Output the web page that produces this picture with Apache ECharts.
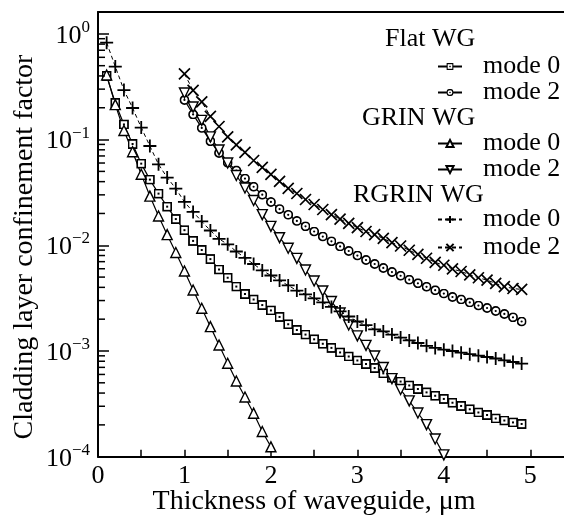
<!DOCTYPE html>
<html><head><meta charset="utf-8">
<script src="https://cdn.jsdelivr.net/npm/echarts@6/dist/echarts.min.js"></script>
<style>html,body{margin:0;padding:0;background:#fff}#c{width:564px;height:518px}</style>
</head><body><div id="c"></div>
<script>
// ---- data ----
const flatMode0X = [0.1,0.2,0.3,0.4,0.5,0.6,0.7,0.8,0.9,1.0,1.1,1.2,1.3,1.4,1.5,1.6,1.7,1.8,1.9,2.0,2.1,2.2,2.3,2.4,2.5,2.6,2.7,2.8,2.9,3.0,3.1,3.2,3.3,3.4,3.5,3.6,3.7,3.8,3.9,4.0,4.1,4.2,4.3,4.4,4.5,4.6,4.7,4.8,4.9];
const flatMode0Y = [0.400,0.222,0.139,0.0908,0.0592,0.0418,0.0308,0.0232,0.0177,0.0139,
  0.0110,0.00902,0.00740,0.00590,0.00493,0.00407,0.00346,0.00307,0.00272,0.00242,
  0.00210,0.00179,0.00158,0.00143,0.00129,0.00117,0.00107,0.000969,0.000887,0.000813,
  0.000753,0.000690,0.000614,0.000558,0.000514,0.000472,0.000437,0.000406,0.000377,0.000352,
  0.000324,0.000302,0.000281,0.000262,0.000248,0.000230,0.000220,0.000211,0.000204];

const flatMode2X = [1.0,1.1,1.2,1.3,1.4,1.5,1.6,1.7,1.8,1.9,2.0,2.1,2.2,2.3,2.4,2.5,2.6,2.7,2.8,2.9,3.0,3.1,3.2,3.3,3.4,3.5,3.6,3.7,3.8,3.9,4.0,4.1,4.2,4.3,4.4,4.5,4.6,4.7,4.8,4.9];
const flatMode2Y = [0.237,0.173,0.129,0.0964,0.0746,0.0604,0.0510,0.0428,0.0358,0.0301,
  0.0257,0.0220,0.0194,0.0170,0.0151,0.0135,0.0121,0.0109,0.00975,0.00883,
  0.00800,0.00726,0.00665,0.00610,0.00558,0.00515,0.00473,0.00437,0.00405,0.00376,
  0.00349,0.00324,0.00307,0.00288,0.00269,0.00255,0.00239,0.00224,0.00208,0.00190];

const grinMode0X = [0.1,0.2,0.3,0.4,0.5,0.6,0.7,0.8,0.9,1.0,1.1,1.2,1.3,1.4,1.5,1.6,1.7,1.8,1.9,2.0];
const grinMode0Y = [0.408,0.214,0.122,0.0767,0.0470,0.0292,0.0189,0.0126,0.00855,0.00571,
  0.00378,0.00254,0.00170,0.00114,0.000766,0.000520,0.000367,0.000258,0.000173,0.000124];

const grinMode2X = [1.0,1.1,1.2,1.3,1.4,1.5,1.6,1.7,1.8,1.9,2.0,2.1,2.2,2.3,2.4,2.5,2.6,2.7,2.8,2.9,3.0,3.1,3.2,3.3,3.4,3.5,3.6,3.7,3.8,3.9,4.0];
const grinMode2Y = [0.276,0.203,0.152,0.106,0.0798,0.0601,0.0457,0.0348,0.0265,0.0195,
  0.0151,0.0118,0.00938,0.00752,0.00583,0.00459,0.00370,0.00294,0.00229,0.00176,
  0.00139,0.00113,0.000897,0.000697,0.000548,0.000432,0.000337,0.000259,0.000201,0.000147,
  0.000104];

const rgrinMode0X = [0.1,0.2,0.3,0.4,0.5,0.6,0.7,0.8,0.9,1.0,1.1,1.2,1.3,1.4,1.5,1.6,1.7,1.8,1.9,2.0,2.1,2.2,2.3,2.4,2.5,2.6,2.7,2.8,2.9,3.0,3.1,3.2,3.3,3.4,3.5,3.6,3.7,3.8,3.9,4.0,4.1,4.2,4.3,4.4,4.5,4.6,4.7,4.8,4.9];
const rgrinMode0Y = [0.826,0.490,0.294,0.199,0.130,0.0869,0.0583,0.0437,0.0344,0.0257,
  0.0207,0.0168,0.0138,0.0115,0.0102,0.00873,0.00759,0.00665,0.00578,0.00518,
  0.00465,0.00417,0.00373,0.00343,0.00314,0.00288,0.00261,0.00237,0.00212,0.00190,
  0.00176,0.00160,0.00153,0.00143,0.00134,0.00126,0.00119,0.00112,0.00107,0.00103,
  0.00100,0.000964,0.000933,0.000903,0.000877,0.000849,0.000816,0.000787,0.000760];

const rgrinMode2X = [1.0,1.1,1.2,1.3,1.4,1.5,1.6,1.7,1.8,1.9,2.0,2.1,2.2,2.3,2.4,2.5,2.6,2.7,2.8,2.9,3.0,3.1,3.2,3.3,3.4,3.5,3.6,3.7,3.8,3.9,4.0,4.1,4.2,4.3,4.4,4.5,4.6,4.7,4.8,4.9];
const rgrinMode2Y = [0.418,0.292,0.227,0.166,0.133,0.106,0.0889,0.0755,0.0634,0.0545,
  0.0468,0.0402,0.0346,0.0309,0.0271,0.0243,0.0218,0.0195,0.0177,0.0161,
  0.0147,0.0135,0.0126,0.0116,0.0106,0.00984,0.00897,0.00822,0.00754,0.00690,
  0.00647,0.00597,0.00565,0.00526,0.00493,0.00468,0.00436,0.00407,0.00390,0.00382];

const xTickLabels = ['0','1','2','3','4','5'];
const yTickExponents = [-4,-3,-2,-1,0];
const yMinorMultipliers = [2,3,4,5,6,7,8,9];
const yMinorDecades = [1e-4,1e-3,1e-2,1e-1];
const groupTitles = ['Flat WG','GRIN WG','RGRIN WG'];
const modeLabels = ['mode 0','mode 2'];

// ---- styling ----
const FONT = '"Liberation Serif", "Times New Roman", serif';
function svgUri(s){ return 'image://data:image/svg+xml;charset=utf-8,' + encodeURIComponent(s); }
const squareSym = svgUri("<svg xmlns='http://www.w3.org/2000/svg' width='20' height='20' viewBox='0 0 20 20'><rect x='1.8' y='1.8' width='16.4' height='16.4' fill='white' stroke='black' stroke-width='3.6'/><rect x='8' y='8' width='4' height='4' fill='black'/></svg>");
const circleSym = svgUri("<svg xmlns='http://www.w3.org/2000/svg' width='20' height='20' viewBox='0 0 20 20'><circle cx='10' cy='10' r='8.2' fill='white' stroke='black' stroke-width='3.4'/><circle cx='10' cy='10' r='2.2' fill='black'/></svg>");
const triUp = 'path://M5,0L10,9L0,9Z';
const triDown = 'path://M0,0L10,0L5,9Z';
const plusSym = 'path://M5,0V10M0,5H10';
const crossSym = 'path://M0,0L10,10M10,0L0,10';

function pairs(xs, ys){ return xs.map((x,i)=>[x, ys[i]]); }
function mk(name, xs, ys, symbol, size, dashed, stroked, bw){
  return {
    type:'line', name, data: pairs(xs, ys), symbol, symbolSize: size, showSymbol:true,
    lineStyle:{color:'#000', width: dashed ? 1 : 1.2, type: dashed ? [4,3] : 'solid'},
    itemStyle: stroked ? {color:'#000', borderColor:'#000', borderWidth:bw}
                       : {color:'#fff', borderColor:'#000', borderWidth:bw},
    emphasis:{disabled:true}, z:3
  };
}
const names = [
  groupTitles[0]+' '+modeLabels[0], groupTitles[0]+' '+modeLabels[1],
  groupTitles[1]+' '+modeLabels[0], groupTitles[1]+' '+modeLabels[1],
  groupTitles[2]+' '+modeLabels[0], groupTitles[2]+' '+modeLabels[1]
];

const minorTicks = [];
yMinorDecades.forEach(d => yMinorMultipliers.forEach(m => minorTicks.push([0, m*d])));

function yLabel(v){
  const lg = Math.log10(v);
  const e = Math.round(lg);
  if (Math.abs(lg - e) > 1e-6 || yTickExponents.indexOf(e) < 0) return '';
  return '{b|10}{s|' + (e < 0 ? '\u2212' + (-e) : String(e)) + '}';
}
function xLabel(v){
  const i = xTickLabels.indexOf(String(v));
  return i >= 0 ? xTickLabels[i] : '';
}

const legendBase = (data, top, gap) => ({
  data, top, left:437, orient:'vertical', padding:0, itemGap:gap,
  itemWidth:24, itemHeight:9, selectedMode:false,
  formatter: n => n.slice(-6),
  textStyle:{fontFamily:FONT, fontSize:26, color:'#000', lineHeight:23, padding:[0,0,0,16]}
});

const chart = echarts.init(document.getElementById('c'), null, {renderer:'canvas'});
chart.setOption({
  animation:false,
  backgroundColor:'#fff',
  grid:{left:98, top:12, right:0, bottom:61.3, containLabel:false},
  xAxis:[{
    type:'value', min:0, max:5.39, interval:0.5,
    axisLine:{lineStyle:{color:'#000', width:2}},
    axisTick:{inside:true, length:7, lineStyle:{color:'#000', width:1.5}},
    axisLabel:{formatter:xLabel, color:'#000', fontFamily:FONT, fontSize:26, margin:6, showMaxLabel:false},
    splitLine:{show:false}
  },{
    type:'value', position:'top', min:0, max:5.39,
    axisLine:{show:true, onZero:false, lineStyle:{color:'#000', width:2}},
    axisTick:{show:false}, axisLabel:{show:false}, splitLine:{show:false}
  }],
  yAxis:{
    type:'log', logBase:10, min:1e-4, max:1.61,
    axisLine:{show:true, lineStyle:{color:'#000', width:2}},
    axisTick:{inside:true, length:11, lineStyle:{color:'#000', width:1.5}},
    axisLabel:{formatter:yLabel, margin:8, color:'#000',
      rich:{
        b:{fontFamily:FONT, fontSize:26, lineHeight:30, verticalAlign:'bottom', color:'#000'},
        s:{fontFamily:FONT, fontSize:17, lineHeight:17, verticalAlign:'top', color:'#000'}
      }},
    splitLine:{show:false}
  },
  legend:[
    legendBase([names[0], names[1]], 53.5, 0),
    legendBase([names[2], names[3]], 130.5, 0),
    legendBase([names[4], names[5]], 206.5, 2)
  ],
  graphic:[
    {type:'text', x:385, y:39, style:{text:groupTitles[0], font:'26px '+FONT, fill:'#000', align:'left', verticalAlign:'middle'}},
    {type:'text', x:362, y:118, style:{text:groupTitles[1], font:'26px '+FONT, fill:'#000', align:'left', verticalAlign:'middle'}},
    {type:'text', x:353, y:195, style:{text:groupTitles[2], font:'26px '+FONT, fill:'#000', align:'left', verticalAlign:'middle'}},
    {type:'text', x:314, y:502, style:{text:'Thickness of waveguide, \u03bcm', font:'28px '+FONT, fill:'#000', align:'center', verticalAlign:'middle'}},
    {type:'text', x:25, y:247, rotation:Math.PI/2, style:{text:'Cladding layer confinement factor', font:'28px '+FONT, fill:'#000', align:'center', verticalAlign:'middle'}}
  ],
  series:[
    mk(names[0], flatMode0X, flatMode0Y, squareSym, 10, false, false, 1.3),
    mk(names[1], flatMode2X, flatMode2Y, circleSym, 10, false, false, 1.3),
    mk(names[2], grinMode0X, grinMode0Y, triUp, 10, false, false, 1.4),
    mk(names[3], grinMode2X, grinMode2Y, triDown, 10, false, false, 1.4),
    mk(names[4], rgrinMode0X, rgrinMode0Y, plusSym, 13, true, true, 1.8),
    mk(names[5], rgrinMode2X, rgrinMode2Y, crossSym, 11, true, true, 1.7),
    {
      type:'custom', silent:true, clip:false, z:5,
      data: minorTicks,
      encode:{x:0, y:1},
      renderItem:(params, api) => {
        const p = api.coord([api.value(0), api.value(1)]);
        return {type:'line', shape:{x1:p[0], y1:p[1], x2:p[0]+7, y2:p[1]}, style:{stroke:'#000', lineWidth:1.5}};
      }
    }
  ]
});
</script></body></html>
